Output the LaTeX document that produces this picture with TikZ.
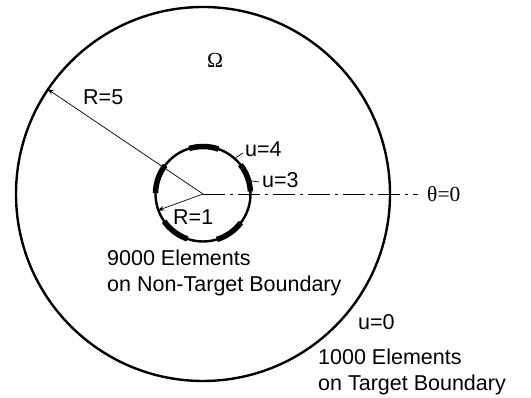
\documentclass[tikz,border=0pt]{standalone}
\usepackage{fontspec}
\setmainfont{Liberation Sans}
\newfontfamily\serifff{Liberation Serif}
\usetikzlibrary{arrows.meta}
\tikzset{
  bnd/.style={draw, circle, inner sep=0pt, line width=2.4pt},
  seg/.style={line width=5.5pt},
  dimarrow/.style={line width=0.7pt, -{Stealth[length=7pt,width=4.5pt]}},
  leader/.style={line width=0.7pt},
  lbl/.style={inner sep=0pt, font=\fontsize{21.5}{26}\selectfont},
  slbl/.style={inner sep=0pt, font=\serifff\fontsize{21.5}{26}\selectfont},
  dashdotline/.style={line width=0.8pt, dash pattern=on 22pt off 5pt on 3pt off 5pt}
}
\begin{document}
\begin{tikzpicture}[x=1pt,y=1pt]
\useasboundingbox (0,0) rectangle (531,398);
\coordinate (C) at (203,204);
\node[bnd, minimum size=374pt] (big) at (C) {};
\node[bnd, minimum size=95pt] (small) at (C) {};
\foreach \a/\b in {3/38, 71/107, 143/179, 215/251, 287/323}
  \draw[seg] ([shift={(C)}]\a:47.5) arc[start angle=\a, end angle=\b, radius=47.5];
\node[slbl] (omega) at (215,338) {Ω};
\node[lbl, anchor=base west] (r5) at (83,293) {R=5};
\node[lbl, anchor=base west] (u4) at (245,241) {u=4};
\node[lbl, anchor=base west] (u3) at (262,210) {u=3};
\node[lbl, anchor=base west] (r1) at (173,173) {R=1};
\node[slbl, anchor=base west] (theta) at (427,196) {θ=0};
\node[lbl, anchor=base west] (u0) at (358,68) {u=0};
\node[lbl, anchor=base west] (e1) at (107,132) {9000 Elements};
\node[lbl, anchor=base west] (e2) at (107,106) {on Non-Target Boundary};
\node[lbl, anchor=base west] (t1) at (318,33) {1000 Elements};
\node[lbl, anchor=base west] (t2) at (318,7) {on Target Boundary};
\draw[dimarrow] (C) -- (big.146.7);
\draw[dimarrow] (C) -- (small.200);
\coordinate (dashend) at (418,204);
\draw[dashdotline] (C) -- (dashend);
\coordinate (u4a) at (243,245);
\draw[leader] (small.48) -- (u4a);
\coordinate (u3a) at (259,216);
\draw[leader] (small.16) -- (u3a);
\end{tikzpicture}
\end{document}
